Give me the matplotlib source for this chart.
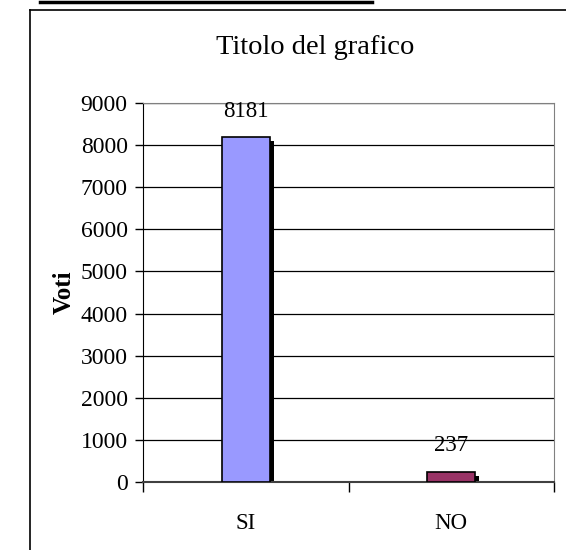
import matplotlib
matplotlib.use('Agg')
import matplotlib.pyplot as plt
import matplotlib.transforms as mtransforms
from matplotlib.lines import Line2D
import numpy as np

# dati del grafico
categorie = ['SI', 'NO']
voti = [8181, 237]
colori = ['#9999FF', '#993366']
yticks = [0, 1000, 2000, 3000, 4000, 5000, 6000, 7000, 8000, 9000]

plt.rcParams['font.family'] = ['Liberation Serif', 'DejaVu Serif']

fig = plt.figure(figsize=(5.66, 5.5), dpi=100)
ax = fig.add_axes([143 / 566, 1 - 482 / 550, (554 - 143) / 566, (482 - 103) / 550])

x = np.arange(len(categorie))
larg = 0.235

# ombra delle barre
ombra = mtransforms.offset_copy(ax.transData, fig, x=4, y=-4, units='dots')
ax.bar(x, voti, width=larg, color='black', transform=ombra, zorder=2)
ax.bar(x, voti, width=larg, color=colori, edgecolor='black', linewidth=1.2, zorder=3)

for xi, v in zip(x, voti):
    ax.annotate(str(v), (xi, v), xytext=(0, 19), textcoords='offset points',
                ha='center', va='center', fontsize=16.5)

ax.set_xlim(-0.5, 1.5)
ax.set_ylim(0, 9000)
ax.set_yticks(yticks)
ax.set_yticklabels([str(t) for t in yticks], fontsize=17)
ax.yaxis.grid(True, color='black', linewidth=0.9, zorder=1)
ax.set_axisbelow(True)

ax.set_xticks([-0.5, 0.5, 1.5])
ax.set_xticklabels([])
ax.set_xticks(x, minor=True)
ax.set_xticklabels(categorie, minor=True, fontsize=16.5)
ax.tick_params(axis='x', which='minor', length=0, pad=22)
ax.tick_params(axis='x', which='major', length=7, width=1, direction='out', color='black')
ax.tick_params(axis='y', length=6, width=1, direction='out', pad=5)

ax.spines['top'].set_color('#808080')
ax.spines['right'].set_color('#808080')
ax.spines['left'].set_color('black')
ax.spines['bottom'].set_color('#404040')
ax.spines['bottom'].set_linewidth(1.5)

ax.set_ylabel('Voti', fontsize=18, fontweight='bold')
ax.yaxis.set_label_coords((76 - 143) / 411, 0.5)

fig.text(315 / 566, 1 - 48 / 550, 'Titolo del grafico', ha='center', va='center', fontsize=20.5)

# cornice
fig.add_artist(Line2D([30 / 566, 30 / 566], [0, 1 - 10 / 550], color='black', linewidth=1.2))
fig.add_artist(Line2D([30 / 566, 1], [1 - 10 / 550, 1 - 10 / 550], color='black', linewidth=1.2))
fig.add_artist(Line2D([40 / 566, 372 / 566], [1 - 2 / 550, 1 - 2 / 550], color='black', linewidth=2.5))

fig.savefig('out.png', dpi=100)
